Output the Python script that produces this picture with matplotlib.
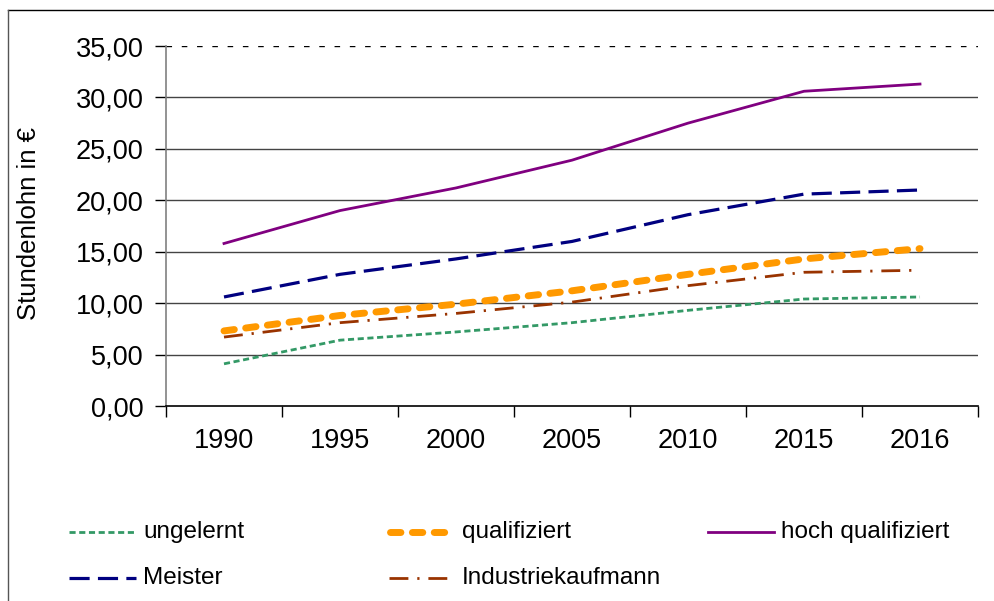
import matplotlib
matplotlib.use("Agg")
import matplotlib.pyplot as plt
from matplotlib.lines import Line2D
import numpy as np

plt.rcParams['font.family'] = ['Liberation Sans', 'DejaVu Sans']

years = ["1990", "1995", "2000", "2005", "2010", "2015", "2016"]
ungelernt = [4.1, 6.4, 7.2, 8.1, 9.3, 10.4, 10.6]
qualifiziert = [7.3, 8.8, 9.9, 11.2, 12.8, 14.3, 15.3]
hoch_qualifiziert = [15.8, 19.0, 21.2, 23.9, 27.5, 30.6, 31.3]
meister = [10.6, 12.8, 14.3, 16.0, 18.6, 20.6, 21.0]
industriekaufmann = [6.7, 8.1, 9.0, 10.1, 11.7, 13.0, 13.2]
yticks = [0, 5, 10, 15, 20, 25, 30, 35]

W, H = 994, 601
fig = plt.figure(figsize=(W/100, H/100), dpi=100)
ax = fig.add_axes([166/W, 1-406/H, (978-166)/W, (406-46)/H])

styles = {
    'ungelernt': dict(color='#339966', lw=2, dashes=(2.2, 1.3)),
    'qualifiziert': dict(color='#FF9900', lw=5, dashes=(1.5, 1.65), dash_capstyle='round'),
    'hoch qualifiziert': dict(color='#800080', lw=2),
    'Meister': dict(color='#000080', lw=2.3, dashes=(6.3, 2.6)),
    'Industriekaufmann': dict(color='#993300', lw=2, dashes=(6.8, 3.2, 0.8, 3.2)),
}
series = {
    'ungelernt': ungelernt,
    'qualifiziert': qualifiziert,
    'hoch qualifiziert': hoch_qualifiziert,
    'Meister': meister,
    'Industriekaufmann': industriekaufmann,
}

x = np.arange(len(years))
for name, vals in series.items():
    ax.plot(x, vals, label=name, zorder=3, **styles[name])

ax.set_xlim(-0.5, len(years)-0.5)
ax.set_ylim(0, 35)
ax.set_yticks(yticks)
ax.set_yticklabels([f"{v:.2f}".replace('.', ',') for v in yticks], fontsize=19.5)
ax.set_xticks(x)
ax.set_xticklabels(years, fontsize=19.5)
ax.set_xticks(np.arange(len(years)+1)-0.5, minor=True)
ax.tick_params(axis='x', which='major', length=0, pad=16)
ax.tick_params(axis='x', which='minor', length=8, width=1, color='black', direction='out')
ax.tick_params(axis='y', length=8, width=1, color='black', direction='out', pad=8)

for v in yticks[1:-1]:
    ax.axhline(v, color='#444444', lw=1, zorder=1)
ax.axhline(35, color='black', lw=1, dashes=(4, 7), zorder=1)

for s in ['top', 'right']:
    ax.spines[s].set_visible(False)
ax.spines['left'].set_color('#808080')
ax.spines['left'].set_linewidth(1.2)
ax.spines['bottom'].set_color('black')
ax.spines['bottom'].set_linewidth(1.2)

fig.text(29/W, 1-223/H, 'Stundenlohn in €', rotation=90, fontsize=18.5,
         ha='center', va='center')

# outer frame
fig.add_artist(Line2D([8/W, 1], [1-10/H, 1-10/H], color='black', lw=1, transform=fig.transFigure))
fig.add_artist(Line2D([8/W, 8/W], [0, 1-10/H], color='#555555', lw=1, transform=fig.transFigure))

# legend (manual placement)
legend_pos = [
    ('ungelernt', 69, 136, 143, 532),
    ('qualifiziert', 390, 454, 462, 532),
    ('hoch qualifiziert', 708, 774, 781, 532),
    ('Meister', 69, 136, 143, 578),
    ('Industriekaufmann', 389, 448, 462, 578),
]
for name, x0, x1, tx, yy in legend_pos:
    fig.add_artist(Line2D([x0/W, x1/W], [1-yy/H, 1-yy/H], transform=fig.transFigure,
                          **styles[name]))
    fig.text(tx/W, 1-yy/H, name, fontsize=17.5, ha='left', va='center')

fig.savefig('out.png', dpi=100)
